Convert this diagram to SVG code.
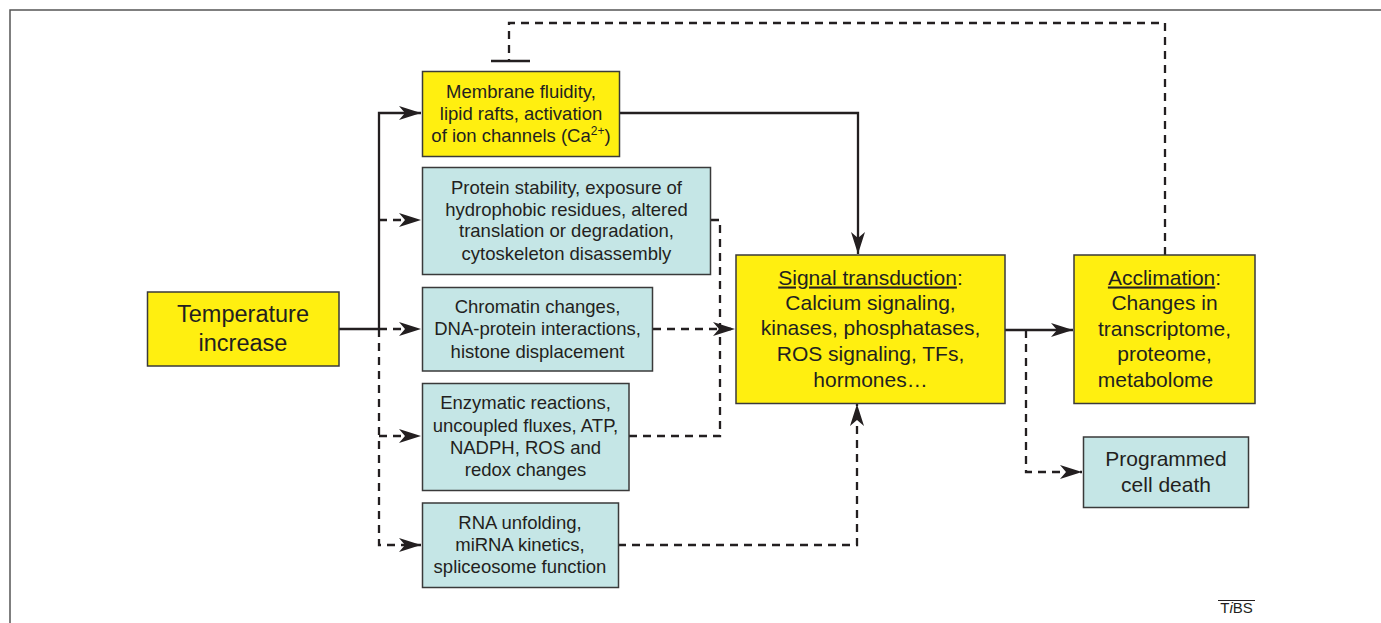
<svg xmlns="http://www.w3.org/2000/svg" width="1381" height="623" viewBox="0 0 1381 623">
<style>
.y{fill:#FFEF10;stroke:#3a3a3a;stroke-width:1.5}
.c{fill:#C5E6E6;stroke:#3a3a3a;stroke-width:1.5}
text{font-family:"Liberation Sans",Arial,sans-serif;fill:#231F20;text-anchor:middle}
.s{font-size:18.5px}
.m{font-size:21px}
.l{font-size:23.5px}
.ln{fill:none;stroke:#231F20;stroke-width:2.3}
.d{stroke-dasharray:8 6}
</style>
<defs>
<marker id="ah" markerUnits="userSpaceOnUse" markerWidth="24" markerHeight="16" refX="22" refY="7" orient="auto">
<path d="M0,0 L22,7 L0,14 L6,7 Z" fill="#231F20"/>
</marker>
</defs>
<rect width="1381" height="623" fill="#fff"/>
<path d="M10,623 V10 H1381" fill="none" stroke="#555" stroke-width="1.5"/>

<g id="connectors">
<path class="ln" d="M339,329 H379"/>
<path class="ln" d="M379,329 V113 H421" marker-end="url(#ah)"/>
<path class="ln d" d="M379,220 H421" marker-end="url(#ah)"/>
<path class="ln d" d="M379,329 H421" marker-end="url(#ah)"/>
<path class="ln d" d="M379,436 H421" marker-end="url(#ah)"/>
<path class="ln d" d="M379,329 V545 H421" marker-end="url(#ah)"/>
<path class="ln" d="M620,113 H858 V254" marker-end="url(#ah)"/>
<path class="ln d" d="M711,220 H720 V436 H629"/>
<path class="ln d" d="M653,329 H735" marker-end="url(#ah)"/>
<path class="ln d" d="M618,545 H857 V404" marker-end="url(#ah)"/>
<path class="ln" d="M1005,330 H1073" marker-end="url(#ah)"/>
<path class="ln d" d="M1026,330 V472 H1082" marker-end="url(#ah)"/>
<path class="ln d" d="M1165,255 V23 H509 V61"/>
<path class="ln" d="M491,61 H530" stroke-width="2.5"/>
</g>

<g id="temperature">
<rect class="y" x="147.5" y="292" width="191.5" height="74"/>
<text class="l" x="243" y="322">Temperature</text>
<text class="l" x="243" y="351">increase</text>
</g>

<g id="membrane">
<rect class="y" x="422.5" y="71.5" width="197" height="85"/>
<text class="s" x="521" y="97.5">Membrane fluidity,</text>
<text class="s" x="521" y="120">lipid rafts, activation</text>
<text class="s" x="521" y="142">of ion channels (Ca<tspan font-size="12" dy="-7">2+</tspan><tspan dy="7">)</tspan></text>
</g>

<g id="protein">
<rect class="c" x="422.5" y="167.5" width="288" height="107"/>
<text class="s" x="566.5" y="193.5">Protein stability, exposure of</text>
<text class="s" x="566.5" y="215.5">hydrophobic residues, altered</text>
<text class="s" x="566.5" y="237">translation or degradation,</text>
<text class="s" x="566.5" y="259.5">cytoskeleton disassembly</text>
</g>

<g id="chromatin">
<rect class="c" x="422.5" y="287.5" width="230" height="83.5"/>
<text class="s" x="537.5" y="312.5">Chromatin changes,</text>
<text class="s" x="537.5" y="335">DNA-protein interactions,</text>
<text class="s" x="537.5" y="357.5">histone displacement</text>
</g>

<g id="enzymatic">
<rect class="c" x="422.5" y="383.5" width="206.5" height="107"/>
<text class="s" x="525.5" y="408.5">Enzymatic reactions,</text>
<text class="s" x="525.5" y="431.5">uncoupled fluxes, ATP,</text>
<text class="s" x="525.5" y="453.5">NADPH, ROS and</text>
<text class="s" x="525.5" y="476">redox changes</text>
</g>

<g id="rna">
<rect class="c" x="422.5" y="503" width="196" height="84.5"/>
<text class="s" x="520" y="528.5">RNA unfolding,</text>
<text class="s" x="520" y="551">miRNA kinetics,</text>
<text class="s" x="520" y="573">spliceosome function</text>
</g>

<g id="signal">
<rect class="y" x="736" y="255" width="269" height="148.5"/>
<text class="m" x="870.5" y="284.5"><tspan text-decoration="underline">Signal transduction</tspan>:</text>
<text class="m" x="870.5" y="309.5">Calcium signaling,</text>
<text class="m" x="870.5" y="335">kinases, phosphatases,</text>
<text class="m" x="870.5" y="361">ROS signaling, TFs,</text>
<text class="m" x="870.5" y="386.5">hormones…</text>
</g>

<g id="acclimation">
<rect class="y" x="1074" y="255" width="181" height="148.5"/>
<text class="m" x="1164.5" y="284.5"><tspan text-decoration="underline">Acclimation</tspan>:</text>
<text class="m" x="1164.5" y="310">Changes in</text>
<text class="m" x="1164.5" y="336">transcriptome,</text>
<text class="m" x="1164.5" y="361">proteome,</text>
<text class="m" x="1155.5" y="386.5">metabolome</text>
</g>

<g id="pcd">
<rect class="c" x="1083.5" y="437" width="165" height="70.5"/>
<text class="m" x="1166" y="466">Programmed</text>
<text class="m" x="1166" y="492">cell death</text>
</g>

<g id="logo">
<line x1="1218" y1="600.5" x2="1255" y2="600.5" stroke="#231F20" stroke-width="1"/>
<text x="1236.5" y="613" font-size="15">T<tspan font-style="italic">i</tspan>BS</text>
</g>
</svg>
